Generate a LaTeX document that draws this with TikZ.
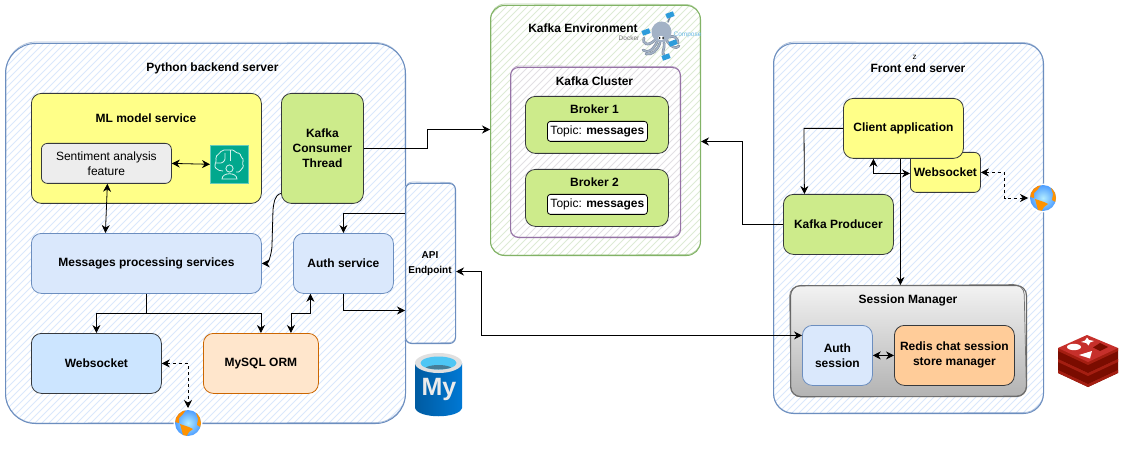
\documentclass[tikz,border=0pt]{standalone}
\usepackage{fontspec}
\setmainfont{Liberation Sans}
\usetikzlibrary{arrows.meta,calc,positioning}
\definecolor{cblue}{HTML}{6C8EBF}
\definecolor{cgreen}{HTML}{82B366}
\definecolor{cpurple}{HTML}{9673A6}
\definecolor{cdark}{HTML}{36393D}
\definecolor{fyellow}{HTML}{FFFF88}
\definecolor{fgreen}{HTML}{CDEB8B}
\definecolor{fblue}{HTML}{DAE8FC}
\definecolor{fsky}{HTML}{CCE5FF}
\definecolor{forange}{HTML}{FFE6CC}
\definecolor{fpeach}{HTML}{FFCC99}
\definecolor{mlgreen}{HTML}{01A88D}
\definecolor{hgreen}{HTML}{DDEBD5}
\definecolor{hgrey}{HTML}{E2E0E4}
\definecolor{rtop}{HTML}{C6302B}
\definecolor{rside}{HTML}{A41E11}
\definecolor{rdark}{HTML}{7A0C00}
\definecolor{mydark}{HTML}{005BA1}
\definecolor{mylight}{HTML}{0078D4}
\definecolor{octo}{HTML}{A3B2C6}
\definecolor{octod}{HTML}{7D8A9C}
\definecolor{cube}{HTML}{2D9CDB}
\tikzset{
  box/.style={draw=cdark,line width=0.8pt,rounded corners=#1,align=center,font=\fontsize{12}{15}\selectfont\bfseries,inner sep=0pt,anchor=north west},
  box/.default=10pt,
  link/.style={draw=black,line width=0.8pt,-{Stealth[length=8pt,width=8pt]}},
  blink/.style={draw=black,line width=0.8pt,{Stealth[length=8pt,width=8pt]}-{Stealth[length=8pt,width=8pt]}},
  dlink/.style={blink,dash pattern=on 3pt off 3pt},
  title/.style={font=\fontsize{12}{14}\selectfont\bfseries,inner sep=0pt},
}
% x y w h radius colour hatch-colour name
\newcommand{\sketchbox}[8]{%
  \begin{scope}
    \clip[rounded corners=#5pt] (#1,#2) rectangle ++(#3,#4);
    \fill[white] (#1,#2) rectangle ++(#3,#4);
    \pgfmathsetmacro{\hstart}{#1-#4-10}
    \pgfmathsetmacro{\hend}{#1+#3+10}
    \pgfmathsetmacro{\hnext}{\hstart+7}
    \foreach \hx in {\hstart,\hnext,...,\hend}
      \draw[#7,line width=1pt] (\hx,#2+#4) -- ++(#4,-#4);
  \end{scope}
  \node[draw=#6,line width=1pt,rounded corners=#5pt,minimum width=#3pt,minimum height=#4pt,inner sep=0pt,anchor=north west] (#8) at (#1,#2) {};
  \draw[#6,opacity=.55,line width=0.8pt,rounded corners=#5pt] (#1+1,#2-1) -- ++(#3-1,0.5) -- ++(0.5,#4) -- ++(-#3,0.5) -- cycle;
}
\newcommand{\globe}[3]{%
  \begin{scope}
    \fill[white] (#1,#2) circle (14.5);
    \shade[inner color=blue!25!cyan!30,outer color=blue!55!cyan!70] (#1,#2) circle (13);
    \clip (#1,#2) circle (13);
    \fill[orange!90!yellow] (#1-13,#2-13) -- (#1-2,#2-13) -- (#1-5,#2-9) -- (#1-9,#2-5) -- (#1-9,#2) -- (#1-13,#2-1) -- cycle;
    \fill[orange!85!yellow] (#1-8,#2+1) -- (#1+1,#2+4) -- (#1+5,#2+6) -- (#1+1,#2+9) -- (#1-2,#2+14) -- (#1-5,#2+12) -- cycle;
    \fill[orange!85!yellow] (#1+8,#2-10) -- (#1+14,#2-6) -- (#1+14,#2+5) -- (#1+9,#2+2) -- (#1+10,#2-4) -- cycle;
    \coordinate (#3) at (#1,#2);
  \end{scope}
}
\begin{document}
\begin{tikzpicture}[x=1pt,y=-1pt]
\useasboundingbox (0,0) rectangle (1124,449);

% Containers
\sketchbox{5}{43}{400}{380}{30}{cblue}{fblue}{py}
\sketchbox{405}{183}{50}{160}{6}{cblue}{fblue}{api}
\sketchbox{490}{5}{210}{250}{14}{cgreen}{hgreen}{env}
\sketchbox{510}{67}{170}{170}{8}{cpurple}{hgrey}{cluster}
\sketchbox{773}{43}{270}{370}{20}{cblue}{fblue}{fe}

\node[title] at (212.5,68) {Python backend server};
\node[font=\fontsize{10}{15}\selectfont\bfseries,align=center,inner sep=0pt] at (430,264) {API\\Endpoint};
\node[title] at (583,28) {Kafka Environment};
\node[title] at (594.5,81) {Kafka Cluster};
\node[title] at (918,68) {Front end server};
\node[font=\fontsize{8}{8}\selectfont,inner sep=0pt] at (914.5,57) {z};

% Python side
\node[box,fill=fyellow,minimum width=230pt,minimum height=110pt] (ml) at (31,93) {};
\node[title] at (146,118) {ML model service};
\node[box,fill=black!7,font=\fontsize{12}{15}\selectfont,minimum width=130pt,minimum height=40pt,rounded corners=6pt] (sent) at (41,143) {Sentiment analysis\\feature};
\node[fill=mlgreen,draw=mlgreen!60!white,line width=.6pt,minimum size=38pt,inner sep=0pt,anchor=north west] (mlicon) at (210,145) {};
\begin{scope}[draw=mlgreen!15!white,line width=0.8pt]
  \draw[rounded corners=2pt] (229,150) -- (222,150) -- (219,154) -- (215,157) -- (217,161) -- (214,165) -- (217,170) -- (223,171);
  \draw[rounded corners=1.5pt] (229,150) -- (234,150) -- (236,153) -- (240,153) -- (241,157) -- (244,160) -- (242,163) -- (244,167) -- (241,169) -- (240,172) -- (236,172);
  \draw (230,150) -- (230,161);
  \draw[rounded corners=1pt] (216,163) -- (222,163) -- (225,160) -- (225,153);
  \draw (229.5,168.5) circle (3.6);
  \draw (222,179) .. controls (222,172) and (237,172) .. (237,179) -- cycle;
\end{scope}
\node[box,fill=fgreen,minimum width=82pt,minimum height=110pt,rounded corners=10pt] (kct) at (281,93) {Kafka\\Consumer\\Thread};
\node[box,draw=cblue,fill=fblue,minimum width=230pt,minimum height=60pt] (msg) at (31,233) {Messages processing services};
\node[box,draw=cblue,fill=fblue,minimum width=100pt,minimum height=60pt] (auth) at (293,233) {Auth service};
\node[box,fill=fsky,minimum width=130pt,minimum height=60pt] (ws) at (31,333) {Websocket};
\node[box,draw=orange!80!black,fill=forange,minimum width=115pt,minimum height=60pt] (orm) at (203,333) {MySQL ORM};

% Kafka
\node[box,fill=fgreen,minimum width=143pt,minimum height=57pt] (b1) at (525,96) {};
\node[title] at (594.5,109) {Broker 1};
\node[box,fill=white,draw=black,rounded corners=3pt,font=\fontsize{12}{14}\selectfont,minimum width=100pt,minimum height=20pt] (t1) at (547,121) {Topic: \textbf{messages}};
\node[box,fill=fgreen,minimum width=143pt,minimum height=57pt] (b2) at (525,169) {};
\node[title] at (594.5,182) {Broker 2};
\node[box,fill=white,draw=black,rounded corners=3pt,font=\fontsize{12}{14}\selectfont,minimum width=100pt,minimum height=20pt] (t2) at (547,194) {Topic: \textbf{messages}};

% Front end
\node[box,fill=fyellow,minimum width=70pt,minimum height=40pt,rounded corners=6pt] (fws) at (910,152) {Websocket};
\node[box,fill=fyellow,minimum width=120pt,minimum height=60pt] (client) at (843,98) {Client application};
\node[box,fill=fgreen,minimum width=110pt,minimum height=60pt] (prod) at (783,194) {Kafka Producer};
\node[box,draw=black!60,line width=1.1pt,top color=black!5,bottom color=black!30,minimum width=236pt,minimum height=111pt] (sm) at (790,285) {};
\draw[black!55,line width=.7pt,rounded corners=10pt] (789.5,286) -- (1024,284.5) -- (1026.5,396) -- (791,397) -- cycle;
\node[title] at (908,300) {Session Manager};
\node[box,draw=cblue,fill=fblue,minimum width=70pt,minimum height=60pt] (asess) at (802,325) {Auth\\session};
\node[box,fill=fpeach,minimum width=120pt,minimum height=60pt] (redis) at (894,325) {Redis chat session\\store manager};

% Globes
\globe{188}{423}{g1}
\globe{1043}{198}{g2}

% Connectors
\draw[link] (kct.east) -- ++(64,0) |- ([yshift=1pt]env.west);
\draw[link] ([yshift=-45pt]kct.west) .. controls +(-7,2) and +(1,-6) .. ++(-8,16) -- ++(-1,36) .. controls +(0,6) and +(7,0) .. (msg.east);
\draw[blink] ([xshift=1pt]sent.south) -- ([xshift=-41pt]msg.north);
\draw[blink] (sent.east) -- (mlicon.west);
\draw[link] (msg.south) -- ++(0,20) -| (ws.north);
\draw[link] (msg.south) -- ++(0,20) -| (orm.north);
\draw[link] ([yshift=50pt]api.west) -| (auth.north);
\draw[link] (auth.south) |- ([yshift=-47pt]api.west);
\draw[blink] ([xshift=-33pt]auth.south) |- ++(-10,20) -| ([xshift=30pt]orm.north);
\draw[dlink] (ws.east) -| ([yshift=15pt]g1);
\draw[blink] ([yshift=-8pt]api.east) -- ++(25,0) |- ([yshift=20pt]asess.west);
\draw[blink] (asess.east) -- (redis.west);
\draw[link] (prod.west) -- ++(-41,0) |- ([yshift=-11pt]env.east);
\draw[link] (client.west) -- ++(-39,0) -- ([xshift=-34pt]prod.north);
\draw[link] ([xshift=-3pt]client.south) -- ([xshift=-3pt]client.south |- sm.north);
\draw[blink] ([xshift=-30pt]client.south) |- ([yshift=-1pt]fws.west);
\draw[dlink] (fws.east) -- ++(24,0) |- ([xshift=-15pt]g2);

% MySQL cylinder
\path[left color=mydark,right color=mylight] (415,363) -- (415,408) .. controls (418,419) and (459,419) .. (462,408) -- (462,363) -- cycle;
\fill[black!12] (438.5,363) ellipse (23.5 and 10);
\fill[cyan!70!white] (438.5,363) ellipse (18 and 6.5);
\begin{scope}
  \clip (438.5,363) ellipse (18 and 6.5);
  \fill[cyan!55!black] (438.5,371) ellipse (16 and 6);
\end{scope}
\node[text=black!8,font=\fontsize{25}{25}\selectfont\bfseries,inner sep=0pt] at (439,389) {My};

% Redis icon
\foreach \yy/\tk in {22/3,11/11,0/11}{
  \fill[rdark] (1058,\yy+348) -- (1058,\yy+348+\tk) -- (1088,\yy+362+\tk) -- (1118,\yy+348+\tk) -- (1118,\yy+348) -- cycle;
  \fill[rside] (1058,\yy+348) -- (1058,\yy+351) -- (1088,\yy+365) -- (1118,\yy+351) -- (1118,\yy+348) -- cycle;
  \fill[rtop] (1058,\yy+348) -- (1087,\yy+335) -- (1118,\yy+348) -- (1088,\yy+362) -- cycle;
}
\fill[white] (1074,347) ellipse (7 and 3.2);
\fill[white] (1079,355) -- (1092,351) -- (1090,358.5) -- cycle;
\fill[white] (1087,337.5) -- (1089,340) -- (1094,341) -- (1090,342.5) -- (1088.5,345.5) -- (1086,343) -- (1081,342) -- (1085,340.5) -- cycle;
\fill[rdark] (1100,343) -- (1108,347) -- (1100,351) -- (1093,347.5) -- cycle;

% Docker compose icon
\node[font=\fontsize{6.5}{7}\selectfont,text=black!55,inner sep=0pt] at (629,38) {Docker};
\node[font=\fontsize{6.5}{7}\selectfont,text=cube!70,inner sep=0pt] at (687.5,35) {Compose};
\begin{scope}[line width=2.6pt,line cap=round,draw=octod]
  \draw (655,40) .. controls (648,47) and (642,44) .. (644,38);
  \draw (657,42) .. controls (653,50) and (648,54) .. (643,50);
  \draw (660,43) .. controls (657,51) and (652,55) .. (646,54);
  \draw (664,43) .. controls (665,50) and (661,52) .. (664,55);
  \draw (667,41) .. controls (670,46) and (676,50) .. (679,46);
  \draw (669,37) .. controls (674,35) and (678,38) .. (678,43);
  \draw[line width=1.6pt] (668,22) -- (670,17);
\end{scope}
\begin{scope}[line width=1.5pt,line cap=round,draw=octo]
  \draw (655,40) .. controls (648,47) and (642,44) .. (644,38);
  \draw (657,42) .. controls (653,50) and (648,54) .. (643,50);
  \draw (660,43) .. controls (657,51) and (652,55) .. (646,54);
  \draw (664,43) .. controls (665,50) and (661,52) .. (664,55);
  \draw (667,41) .. controls (670,46) and (676,50) .. (679,46);
  \draw (669,37) .. controls (674,35) and (678,38) .. (678,43);
\end{scope}
\fill[octo] (661.5,32) ellipse (10 and 10.5);
\fill[white] (661,38) ellipse (3 and 2);
\fill[black] (659.5,38) circle (1);
\fill[black] (663,38) circle (1);
\foreach \cx/\cy in {670/15,646/32,673/43,666/57}{
  \fill[cube,rotate around={20:(\cx,\cy)}] (\cx-4,\cy-2.5) rectangle (\cx+4,\cy+2.5);
}
\end{tikzpicture}
\end{document}
